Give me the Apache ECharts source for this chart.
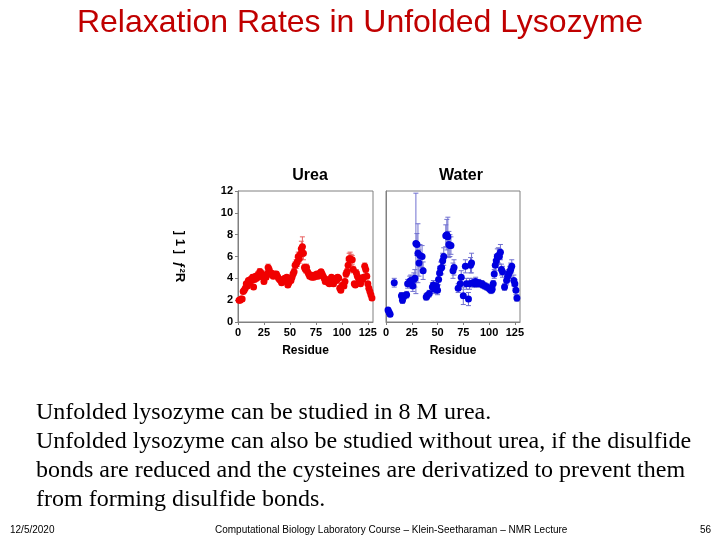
<!DOCTYPE html>
<html>
<head>
<meta charset="utf-8">
<script src="https://cdn.jsdelivr.net/npm/echarts@6/dist/echarts.min.js"></script>
<style>
  html, body { margin: 0; padding: 0; background: #fff; }
  #main { width: 720px; height: 540px; }
</style>
</head>
<body>
<div id="main"></div>
<script>
// urea: R2 per residue
var ureaRes = [
  1, 2, 3, 4, 5, 6, 7, 8, 9, 10,
  11, 12, 13, 14, 15, 16, 17, 18, 19, 20,
  21, 22, 23, 24, 25, 26, 27, 28, 29, 30,
  31, 32, 33, 34, 35, 36, 37, 38, 39, 40,
  41, 42, 43, 44, 45, 46, 47, 48, 49, 50,
  51, 52, 53, 54, 55, 56, 57, 58, 59, 60,
  61, 62, 63, 64, 65, 66, 67, 68, 69, 70,
  71, 72, 73, 74, 75, 76, 77, 78, 79, 80,
  81, 82, 83, 84, 85, 86, 87, 88, 89, 90,
  91, 92, 93, 94, 95, 96, 97, 98, 99, 100,
  101, 102, 103, 104, 105, 106, 107, 108, 109, 110,
  111, 112, 113, 114, 115, 116, 117, 118, 119, 120,
  121, 122, 123, 124, 125, 126, 127, 128, 129
];
var ureaR2 = [
  2.0, 2.0, 2.1, 2.1, 2.8, 2.9, 3.1, 3.5, 3.3, 3.8,
  3.6, 3.9, 3.8, 4.1, 3.2, 3.9, 4.2, 4.0, 4.3, 4.2,
  4.6, 4.5, 4.4, 4.1, 3.7, 4.2, 4.1, 4.4, 5.0, 4.8,
  4.5, 4.5, 4.3, 4.2, 4.4, 4.3, 4.4, 4.2, 4.0, 3.9,
  3.8, 3.6, 3.7, 3.9, 4.0, 3.9, 4.1, 3.4, 3.6, 3.9,
  3.8, 4.1, 4.4, 4.6, 5.2, 5.3, 5.5, 6.0, 5.8, 6.2,
  6.7, 6.9, 6.3, 5.0, 4.8, 5.0, 4.6, 4.4, 4.2, 4.3,
  4.1, 4.2, 4.1, 4.3, 4.2, 4.4, 4.2, 4.3, 4.5, 4.6,
  4.4, 4.2, 4.0, 3.7, 3.9, 3.8, 3.6, 3.5, 3.8, 4.1,
  3.7, 3.5, 3.9, 4.0, 3.8, 4.1, 4.0, 3.1, 2.9, 3.3,
  3.4, 3.3, 3.7, 4.4, 4.6, 5.2, 5.8, 5.8, 5.7, 5.7,
  4.8, 3.5, 3.4, 4.5, 4.2, 4.0, 3.6, 3.5, 4.0, 3.9,
  4.1, 5.1, 4.8, 4.2, 3.5, 3.1, 2.8, 2.5, 2.2
];
var ureaErr = [
  0.2, 0.2, 0.2, 0.2, 0.2, 0.2, 0.2, 0.2, 0.2, 0.2,
  0.2, 0.2, 0.2, 0.2, 0.2, 0.2, 0.2, 0.2, 0.3, 0.3,
  0.3, 0.3, 0.3, 0.2, 0.2, 0.2, 0.2, 0.3, 0.3, 0.3,
  0.2, 0.2, 0.2, 0.2, 0.2, 0.2, 0.2, 0.2, 0.2, 0.2,
  0.2, 0.2, 0.2, 0.2, 0.2, 0.2, 0.2, 0.2, 0.2, 0.2,
  0.2, 0.2, 0.2, 0.3, 0.3, 0.4, 0.4, 0.4, 0.4, 0.5,
  0.7, 0.9, 0.6, 0.3, 0.3, 0.3, 0.2, 0.2, 0.2, 0.2,
  0.2, 0.2, 0.2, 0.2, 0.2, 0.2, 0.2, 0.2, 0.2, 0.2,
  0.2, 0.2, 0.2, 0.2, 0.2, 0.2, 0.2, 0.2, 0.2, 0.2,
  0.2, 0.2, 0.2, 0.2, 0.2, 0.2, 0.2, 0.2, 0.2, 0.2,
  0.2, 0.2, 0.2, 0.3, 0.3, 0.4, 0.5, 0.6, 0.5, 0.4,
  0.3, 0.2, 0.2, 0.3, 0.2, 0.2, 0.2, 0.2, 0.2, 0.2,
  0.2, 0.3, 0.3, 0.2, 0.2, 0.2, 0.2, 0.2, 0.2
];

// water (reduced, derivatized cysteines)
var waterRes = [
  2, 3, 4, 8, 15, 16, 18, 20, 21, 23,
  24, 26, 27, 28, 29, 30, 31, 32, 33, 35,
  36, 39, 40, 42, 45, 46, 47, 49, 50, 51,
  52, 53, 54, 55, 56, 58, 59, 60, 61, 62,
  63, 65, 66, 70, 72, 73, 75, 77, 78, 80,
  81, 82, 83, 84, 86, 87, 88, 90, 91, 93,
  94, 96, 98, 100, 101, 102, 103, 104, 105, 106,
  107, 108, 109, 110, 111, 112, 113, 115, 117, 118,
  119, 120, 121, 122, 124, 125, 126, 127
];
var waterR2 = [
  1.1, 0.9, 0.7, 3.6, 2.4, 2.0, 2.4, 2.5, 3.5, 3.7,
  3.8, 3.3, 3.9, 4.0, 7.2, 7.1, 6.3, 5.4, 6.1, 6.0,
  4.7, 2.3, 2.4, 2.6, 3.2, 3.4, 3.0, 3.3, 2.9, 3.9,
  4.5, 4.9, 5.0, 5.6, 6.0, 7.9, 8.0, 7.8, 7.1, 7.0,
  7.0, 4.7, 5.0, 3.1, 3.5, 4.1, 2.4, 5.1, 3.5, 2.1,
  3.5, 5.2, 5.4, 3.6, 3.5, 3.7, 3.5, 3.6, 3.5, 3.5,
  3.4, 3.3, 3.2, 3.1, 3.0, 2.9, 3.0, 3.5, 4.4, 5.2,
  5.6, 6.0, 6.1, 6.0, 6.4, 4.8, 4.6, 3.2, 3.8, 4.2,
  4.4, 4.6, 4.8, 5.1, 3.8, 3.5, 2.9, 2.2
];
var waterErr = [
  0.2, 0.2, 0.2, 0.4, 0.3, 0.3, 0.3, 0.3, 0.4, 0.5,
  0.5, 0.5, 0.6, 0.8, 4.6, 1.0, 2.7, 1.2, 1.0, 1.0,
  0.8, 0.3, 0.3, 0.3, 0.4, 0.4, 0.4, 0.5, 0.4, 0.5,
  0.6, 0.6, 0.6, 0.7, 0.8, 1.0, 1.4, 1.8, 1.2, 1.0,
  0.8, 0.7, 0.7, 0.4, 0.5, 0.6, 0.8, 0.6, 0.5, 0.6,
  0.5, 0.7, 0.9, 0.4, 0.3, 0.4, 0.3, 0.3, 0.3, 0.3,
  0.3, 0.3, 0.3, 0.3, 0.3, 0.3, 0.3, 0.3, 0.4, 0.5,
  0.6, 0.7, 0.7, 0.7, 0.7, 0.5, 0.5, 0.3, 0.4, 0.4,
  0.4, 0.5, 0.6, 0.6, 0.5, 0.4, 0.4, 0.3
];

var xTicks = [0, 25, 50, 75, 100, 125];
var yTicks = [0, 2, 4, 6, 8, 10, 12];

var bodyLines = [
  "Unfolded lysozyme can be studied in 8 M urea.",
  "Unfolded lysozyme can also be studied without urea, if the disulfide",
  "bonds are reduced and the cysteines are derivatized to prevent them",
  "from forming disulfide bonds."
];

var SANS = '"Liberation Sans", Arial, sans-serif';
var SERIF = '"Liberation Serif", "Times New Roman", serif';

function pts(xs, ys) {
  var out = [];
  for (var i = 0; i < xs.length; i++) out.push([xs[i], ys[i]]);
  return out;
}
function bars(xs, ys, es) {
  var out = [];
  for (var i = 0; i < xs.length; i++) out.push([xs[i], ys[i] - es[i], ys[i] + es[i]]);
  return out;
}

// vertical error bar with small caps
function errRender(color) {
  return function (params, api) {
    var x = api.value(0);
    var lo = api.coord([x, api.value(1)]);
    var hi = api.coord([x, api.value(2)]);
    var w = 2.5;
    var st = { stroke: color, lineWidth: 1 };
    return {
      type: 'group',
      children: [
        { type: 'line', shape: { x1: lo[0], y1: lo[1], x2: hi[0], y2: hi[1] }, style: st },
        { type: 'line', shape: { x1: lo[0] - w, y1: lo[1], x2: lo[0] + w, y2: lo[1] }, style: st },
        { type: 'line', shape: { x1: hi[0] - w, y1: hi[1], x2: hi[0] + w, y2: hi[1] }, style: st }
      ]
    };
  };
}

var axisLbl = { color: '#000', fontFamily: SANS, fontWeight: 'bold', fontSize: 11, margin: 5 };
var axisLn = { show: true, lineStyle: { color: '#808080', width: 1 } };

function xAxisFor(idx) {
  return {
    type: 'value', gridIndex: idx, min: 0, max: 130, interval: 25,
    name: 'Residue', nameLocation: 'middle', nameGap: 23,
    nameTextStyle: { color: '#000', fontFamily: SANS, fontWeight: 'bold', fontSize: 12 },
    axisLine: axisLn,
    axisTick: { show: true, inside: false, length: 3, lineStyle: { color: '#808080' } },
    axisLabel: Object.assign({ showMaxLabel: false, formatter: function (v) {
      return xTicks.indexOf(v) >= 0 ? String(v) : '';
    } }, axisLbl),
    splitLine: { show: false }
  };
}

var chart = echarts.init(document.getElementById('main'));
chart.setOption({
  animation: false,
  backgroundColor: '#fff',
  title: [
    { text: 'Urea', left: 305, top: 163, textAlign: 'center',
      textStyle: { fontFamily: SANS, fontWeight: 'bold', fontSize: 16, color: '#000' } },
    { text: 'Water', left: 456, top: 163, textAlign: 'center',
      textStyle: { fontFamily: SANS, fontWeight: 'bold', fontSize: 16, color: '#000' } }
  ],
  grid: [
    { left: 238, top: 191, width: 135, height: 131, show: true, borderColor: '#808080', borderWidth: 1 },
    { left: 386, top: 191, width: 134, height: 131, show: true, borderColor: '#808080', borderWidth: 1 }
  ],
  xAxis: [xAxisFor(0), xAxisFor(1)],
  yAxis: [
    {
      type: 'value', gridIndex: 0, min: 0, max: 12, interval: 2,
      name: '] 1 ]  \u0192\u00b2R', nameLocation: 'middle', nameGap: 52, nameRotate: -90,
      nameTextStyle: { color: '#000', fontFamily: SANS, fontWeight: 'bold', fontSize: 13 },
      axisLine: axisLn,
      axisTick: { show: true, length: 3, lineStyle: { color: '#808080' } },
      axisLabel: Object.assign({ formatter: function (v) {
        return yTicks.indexOf(v) >= 0 ? String(v) : '';
      } }, axisLbl),
      splitLine: { show: false }
    },
    {
      type: 'value', gridIndex: 1, min: 0, max: 12, interval: 2,
      axisLine: axisLn, axisTick: { show: false }, axisLabel: { show: false },
      splitLine: { show: false }
    }
  ],
  series: [
    {
      type: 'custom', xAxisIndex: 0, yAxisIndex: 0, clip: true,
      renderItem: errRender('#e86060'),
      data: bars(ureaRes, ureaR2, ureaErr), z: 1
    },
    {
      type: 'scatter', xAxisIndex: 0, yAxisIndex: 0, symbolSize: 7,
      itemStyle: { color: '#f00000', opacity: 1 },
      data: pts(ureaRes, ureaR2), z: 2
    },
    {
      type: 'custom', xAxisIndex: 1, yAxisIndex: 1, clip: true,
      renderItem: errRender('#7070d0'),
      data: bars(waterRes, waterR2, waterErr), z: 1
    },
    {
      type: 'scatter', xAxisIndex: 1, yAxisIndex: 1, symbolSize: 7,
      itemStyle: { color: '#0000e0', opacity: 1 },
      data: pts(waterRes, waterR2), z: 2
    }
  ],
  graphic: [
    { type: 'text', left: 'center', top: 7,
      style: { text: 'Relaxation Rates in Unfolded Lysozyme', font: '32px ' + SANS, fill: '#c00000' } },
    { type: 'text', left: 36, top: 398,
      style: { text: bodyLines.join('\n'), font: '24px ' + SERIF, fill: '#000', lineHeight: 29 } },
    { type: 'text', left: 10, top: 525,
      style: { text: '12/5/2020', font: '10px ' + SANS, fill: '#000' } },
    { type: 'text', left: 215, top: 525,
      style: { text: 'Computational Biology Laboratory Course \u2013 Klein-Seetharaman \u2013 NMR Lecture', font: '10px ' + SANS, fill: '#000' } },
    { type: 'text', left: 700, top: 525,
      style: { text: '56', font: '10px ' + SANS, fill: '#000' } }
  ]
});
</script>
</body>
</html>
